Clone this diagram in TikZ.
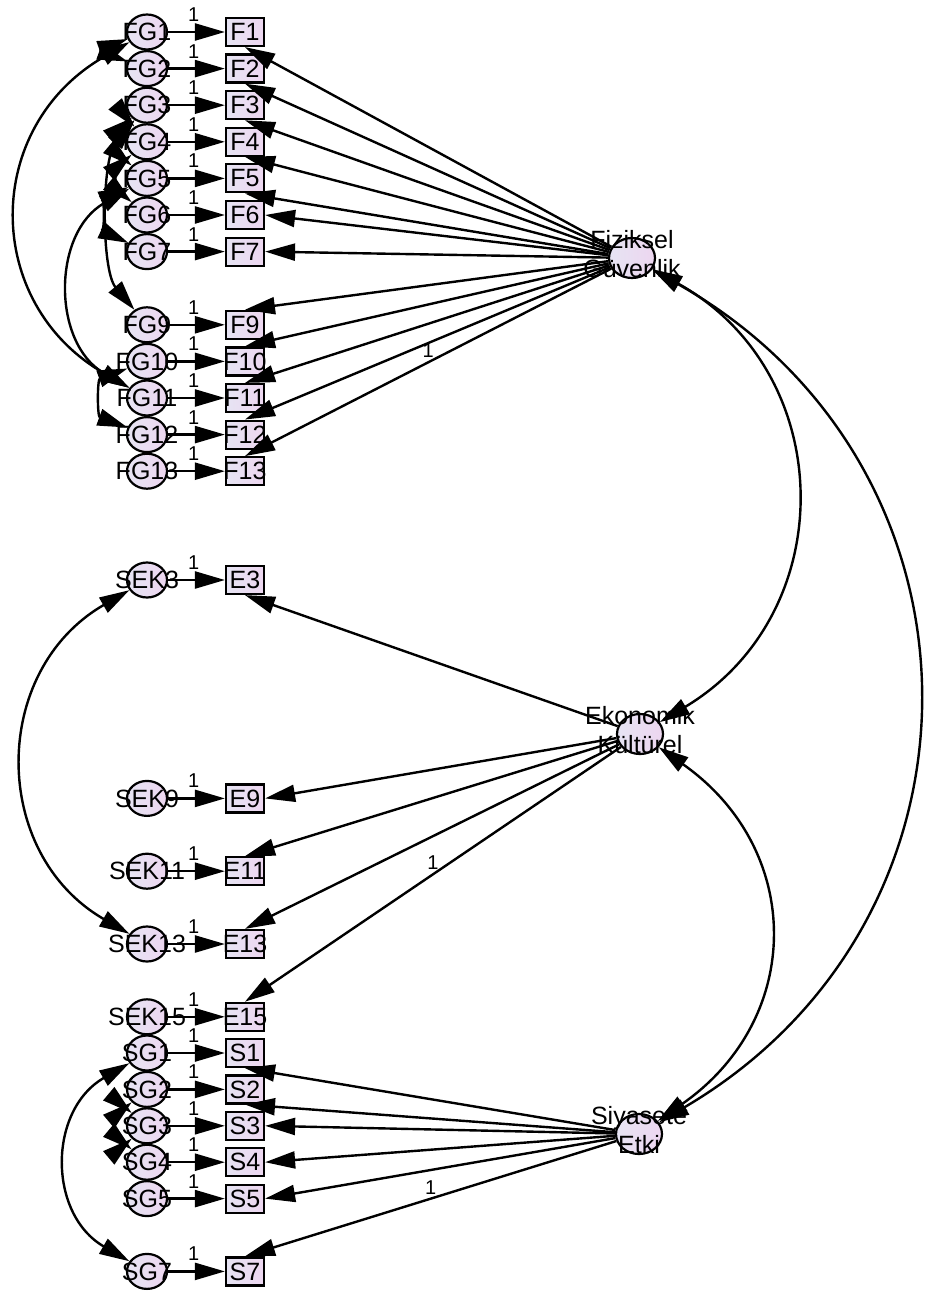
\documentclass[tikz,border=0pt]{standalone}
\usepackage{fontspec}
\setmainfont{Liberation Sans}
\usetikzlibrary{arrows.meta,shapes.geometric}
\definecolor{lavleft}{RGB}{230,228,243}
\definecolor{lavright}{RGB}{237,214,240}
\tikzset{
  big/.style={font=\fontsize{25}{29}\selectfont},
  small/.style={font=\fontsize{20}{22}\selectfont},
  shade/.style={draw,line width=2.2pt,left color=lavleft,right color=lavright,inner sep=0pt},
  err/.style={ellipse,shade,minimum width=40pt,minimum height=35pt},
  obs/.style={rectangle,shade,minimum width=38pt,minimum height=28pt},
  lat/.style={ellipse,shade,minimum width=46pt,minimum height=40pt},
  reg/.style={-{Triangle[length=30pt,width=17pt]},line width=2.4pt},
  cov/.style={{Triangle[length=30pt,width=17pt]}-{Triangle[length=30pt,width=17pt]},line width=2.4pt}
}
\begin{document}
\begin{tikzpicture}[x=1pt,y=-1pt]
\useasboundingbox (0,0) rectangle (927,1292);
\node [lat,label={[big,align=center,yshift=4pt]center:{Fiziksel\\Güvenlik}}] (Fiz) at (632,258) {};
\node [lat,label={[big,align=center,yshift=4pt]center:{Ekonomik\\Kültürel}}] (Ekon) at (640,734) {};
\node [lat,label={[big,align=center,yshift=4pt]center:{Siyasete\\Etki}}] (Siy) at (639,1134) {};
\foreach \i in {1,2,3,4,5,6,7,9,10,11,12,13} {
  \pgfmathsetmacro\yy{32+36.6*(\i-1)}
  \node [err,label={[big]center:FG\i}] (FG\i) at (147,\yy) {};
  \node [obs,label={[big]center:F\i}] (F\i) at (245,\yy) {};
  \draw [reg] (FG\i) -- node [small,above=6pt,pos=0.45] (oneF\i) {1} (F\i);
}
\foreach \i in {3,9,11,13,15} {
  \pgfmathsetmacro\yy{580+36.4*(\i-3)}
  \node [err,label={[big]center:SEK\i}] (SEK\i) at (147,\yy) {};
  \node [obs,label={[big]center:E\i}] (E\i) at (245,\yy) {};
  \draw [reg] (SEK\i) -- node [small,above=6pt,pos=0.45] (oneE\i) {1} (E\i);
}
\foreach \i in {1,2,3,4,5,7} {
  \pgfmathsetmacro\yy{1053+36.4*(\i-1)}
  \node [err,label={[big]center:SG\i}] (SG\i) at (147,\yy) {};
  \node [obs,label={[big]center:S\i}] (S\i) at (245,\yy) {};
  \draw [reg] (SG\i) -- node [small,above=6pt,pos=0.45] (oneS\i) {1} (S\i);
}
\foreach \i/\a in {1/south,2/south,3/south,4/south,5/south,6/east,7/east,9/north,10/north,11/north,12/north}
  \draw [reg] (Fiz) -- (F\i.\a);
\draw [reg] (Fiz) -- node [small,above] (oneFiz) {1} (F13.north);
\foreach \i/\a in {3/south,9/east,11/north,13/north}
  \draw [reg] (Ekon) -- (E\i.\a);
\draw [reg] (Ekon) -- node [small,above] (oneEkon) {1} (E15.north);
\foreach \i/\a in {1/south,2/south,3/east,4/east,5/east}
  \draw [reg] (Siy) -- (S\i.\a);
\draw [reg] (Siy) -- node [small,above] (oneSiy) {1} (S7.north);
\foreach \a/\b/\ang/\loose in {FG1/FG2/70/1.8,FG1/FG11/60/1.26,FG3/FG4/40/1,FG3/FG5/50/1,FG3/FG9/40/0.7,FG4/FG6/50/1,FG5/FG7/65/1.2,FG5/FG11/60/1.15,FG10/FG12/70/1.4,SEK3/SEK13/60/1.2,SG1/SG7/60/1.22,SG2/SG3/50/1,SG3/SG4/50/1}
  \draw [cov] (\a) to [bend right=\ang,looseness=\loose] (\b);
\draw [cov] (Fiz) to [bend left=60,looseness=1.2] (Ekon);
\draw [cov] (Fiz) to [bend left=60,looseness=1.2] (Siy);
\draw [cov] (Ekon) to [bend left=55,looseness=1.22] (Siy);
\end{tikzpicture}
\end{document}
